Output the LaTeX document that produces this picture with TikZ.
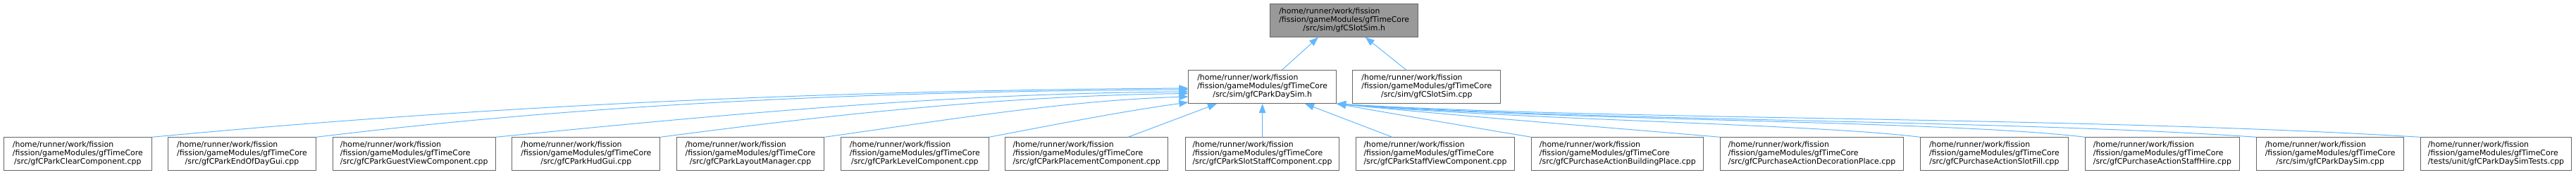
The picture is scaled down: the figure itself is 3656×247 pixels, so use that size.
\documentclass[tikz,border=0pt]{standalone}
\usepackage{fontspec}
\setmainfont{DejaVu Sans}
\usetikzlibrary{arrows.meta,calc}
\definecolor{edgeblue}{HTML}{63B8FF}
\definecolor{boxborder}{HTML}{666666}
\definecolor{curfill}{HTML}{999999}
\newcommand{\dxlbl}[3]{\begin{tabular}{@{}l@{}}#1\\#2\\\multicolumn{1}{@{}c@{}}{#3}\end{tabular}}
\begin{document}
\begin{tikzpicture}[x=1pt,y=-1pt,
  filebox/.style={draw=boxborder, line width=1pt, fill=white, inner sep=0pt, anchor=north west,
    minimum height=46.7pt, font=\fontsize{10.9}{12}\selectfont, text=black},
  curbox/.style={filebox, fill=curfill},
  dep/.style={draw=edgeblue, line width=1pt, -{Triangle[length=13pt,width=9.5pt]}}]
\useasboundingbox (0,0) rectangle (3656,247);
% nodes
\node[curbox, minimum width=209.7pt] (top) at (1802.3,5) {\dxlbl{/home/runner/work/fission}{/fission/gameModules/gfTimeCore}{/src/sim/gfCSlotSim.h}};
\node[filebox, minimum width=209.7pt] (dsh) at (1686.3,99.3) {\dxlbl{/home/runner/work/fission}{/fission/gameModules/gfTimeCore}{/src/sim/gfCParkDaySim.h}};
\node[filebox, minimum width=210pt] (ssc) at (1919.3,99.3) {\dxlbl{/home/runner/work/fission}{/fission/gameModules/gfTimeCore}{/src/sim/gfCSlotSim.cpp}};
\node[filebox, minimum width=209.7pt] (b1) at (5,194.3) {\dxlbl{/home/runner/work/fission}{/fission/gameModules/gfTimeCore}{/src/gfCParkClearComponent.cpp}};
\node[filebox, minimum width=209.4pt] (b2) at (238.3,194.3) {\dxlbl{/home/runner/work/fission}{/fission/gameModules/gfTimeCore}{/src/gfCParkEndOfDayGui.cpp}};
\node[filebox, minimum width=231pt] (b3) at (471.7,194.3) {\dxlbl{/home/runner/work/fission}{/fission/gameModules/gfTimeCore}{/src/gfCParkGuestViewComponent.cpp}};
\node[filebox, minimum width=210pt] (b4) at (726.3,194.3) {\dxlbl{/home/runner/work/fission}{/fission/gameModules/gfTimeCore}{/src/gfCParkHudGui.cpp}};
\node[filebox, minimum width=209.6pt] (b5) at (959.7,194.3) {\dxlbl{/home/runner/work/fission}{/fission/gameModules/gfTimeCore}{/src/gfCParkLayoutManager.cpp}};
\node[filebox, minimum width=209.7pt] (b6) at (1193,194.3) {\dxlbl{/home/runner/work/fission}{/fission/gameModules/gfTimeCore}{/src/gfCParkLevelComponent.cpp}};
\node[filebox, minimum width=230.7pt] (b7) at (1426.3,194.3) {\dxlbl{/home/runner/work/fission}{/fission/gameModules/gfTimeCore}{/src/gfCParkPlacementComponent.cpp}};
\node[filebox, minimum width=218.6pt] (b8) at (1681.7,194.3) {\dxlbl{/home/runner/work/fission}{/fission/gameModules/gfTimeCore}{/src/gfCParkSlotStaffComponent.cpp}};
\node[filebox, minimum width=224.4pt] (b9) at (1924.3,194.3) {\dxlbl{/home/runner/work/fission}{/fission/gameModules/gfTimeCore}{/src/gfCParkStaffViewComponent.cpp}};
\node[filebox, minimum width=244pt] (b10) at (2173.3,194.3) {\dxlbl{/home/runner/work/fission}{/fission/gameModules/gfTimeCore}{/src/gfCPurchaseActionBuildingPlace.cpp}};
\node[filebox, minimum width=260pt] (b11) at (2441,194.3) {\dxlbl{/home/runner/work/fission}{/fission/gameModules/gfTimeCore}{/src/gfCPurchaseActionDecorationPlace.cpp}};
\node[filebox, minimum width=209.7pt] (b12) at (2725,194.3) {\dxlbl{/home/runner/work/fission}{/fission/gameModules/gfTimeCore}{/src/gfCPurchaseActionSlotFill.cpp}};
\node[filebox, minimum width=218.7pt] (b13) at (2959,194.3) {\dxlbl{/home/runner/work/fission}{/fission/gameModules/gfTimeCore}{/src/gfCPurchaseActionStaffHire.cpp}};
\node[filebox, minimum width=209.3pt] (b14) at (3202,194.3) {\dxlbl{/home/runner/work/fission}{/fission/gameModules/gfTimeCore}{/src/sim/gfCParkDaySim.cpp}};
\node[filebox, minimum width=214.6pt] (b15) at (3434.7,194.3) {\dxlbl{/home/runner/work/fission}{/fission/gameModules/gfTimeCore}{/tests/unit/gfCParkDaySimTests.cpp}};
% edges to top
\draw[dep] ($(dsh.north west)+(133,0)$) -- ($(top.south west)+(68.7,0)$);
\draw[dep] ($(ssc.north west)+(76.7,0)$) -- ($(top.south west)+(135.4,0)$);
% left group
\draw[dep] (b1.north east) .. controls +(490,-46) and +(-490,3) .. ($(dsh.north west)+(0,25.7)$);
\draw[dep] (b2.north east) .. controls +(410,-50) and +(-410,2) .. ($(dsh.north west)+(0,27.7)$);
\draw[dep] (b3.north east) .. controls +(330,-33) and +(-330,2) .. ($(dsh.north west)+(0,30.7)$);
\draw[dep] (b4.north east) .. controls +(250,-33) and +(-250,3) .. ($(dsh.north west)+(0,33.2)$);
\draw[dep] (b5.north east) .. controls +(170,-24) and +(-170,5) .. ($(dsh.north west)+(0,37.7)$);
\draw[dep] (b6.north east) .. controls +(95,-18) and +(-95,13) .. ($(dsh.north west)+(0,45.7)$);
\draw[dep] ($(b7.north west)+(174.7,0)$) -- ($(dsh.south west)+(40.7,0)$);
\draw[dep] (b8.north) -- (dsh.south);
\draw[dep] ($(b9.north west)+(51.7,0)$) -- ($(dsh.south west)+(165.7,0)$);
% right group
\draw[dep] (b10.north west) .. controls +(-90,-15) and +(90,16) .. (dsh.south east);
\draw[dep] (b11.north west) .. controls +(-180,-15.5) and +(180,18) .. (dsh.south east);
\draw[dep] (b12.north west) .. controls +(-150,-18.8) and +(250,22.5) .. (dsh.south east);
\draw[dep] (b13.north west) .. controls +(-200,-24) and +(300,24) .. (dsh.south east);
\draw[dep] (b14.north west) .. controls +(-350,-24.5) and +(350,24.5) .. (dsh.south east);
\draw[dep] (b15.north west) .. controls +(-500,-30) and +(400,24) .. (dsh.south east);
\end{tikzpicture}
\end{document}
